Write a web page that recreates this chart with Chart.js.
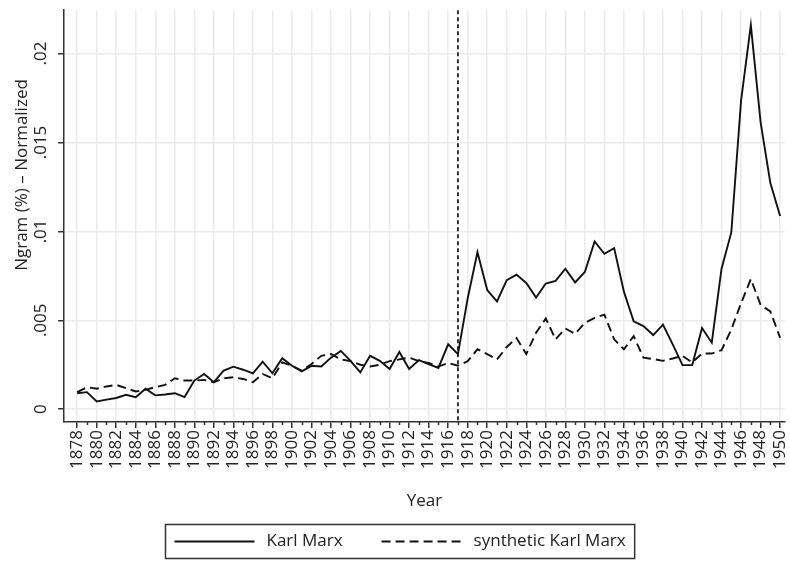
<!DOCTYPE html>
<html>
<head>
<meta charset="utf-8">
<title>Karl Marx ngram</title>
<script src="https://cdn.jsdelivr.net/npm/chart.js@4.4.1/dist/chart.umd.min.js"></script>
<style>
  html, body { margin: 0; padding: 0; background: #fff; }
  #wrap { width: 790px; height: 563px; }
</style>
</head>
<body>
<div id="wrap"><canvas id="ngram"></canvas></div>
<script>
// one value per year, 1878 .. 1950
const years = Array.from({ length: 73 }, (_, i) => 1878 + i);

const karlMarx = [
  0.0009, 0.00096, 0.00044, 0.00054, 0.00063, 0.00081, 0.00068, 0.00115, 0.00078, 0.00083,
  0.0009, 0.00068, 0.00161, 0.00198, 0.00152, 0.00217, 0.00239, 0.00222, 0.00202, 0.00267,
  0.00202, 0.00287, 0.00244, 0.00213, 0.00244, 0.0024, 0.0029, 0.00328, 0.00272, 0.00207,
  0.003, 0.00272, 0.00226, 0.00322, 0.00226, 0.00276, 0.00254, 0.00232, 0.00365, 0.0031,
  0.00624, 0.00883, 0.0067, 0.00606, 0.00726, 0.00757, 0.0071, 0.00628, 0.00707, 0.00722,
  0.0079, 0.00713, 0.00772, 0.00943, 0.00874, 0.00906, 0.00661, 0.00494, 0.00467, 0.00417,
  0.00476, 0.00365, 0.00248, 0.00248, 0.00457, 0.00374, 0.0079, 0.00994, 0.01735, 0.0216,
  0.01615, 0.01272, 0.01087
];

const syntheticMarx = [
  0.00096, 0.00124, 0.00115, 0.00128, 0.00137, 0.00118, 0.001, 0.00109, 0.00124, 0.00137,
  0.00174, 0.00161, 0.00161, 0.00165, 0.00152, 0.00174, 0.0018, 0.0017, 0.00152, 0.00198,
  0.00174, 0.00263, 0.00244, 0.00217, 0.00254, 0.003, 0.0031, 0.0028, 0.0027, 0.0025,
  0.0024, 0.0025, 0.0027, 0.0028, 0.0029, 0.0027, 0.0026, 0.0024, 0.0026, 0.00245,
  0.0027, 0.00337, 0.0031, 0.0028, 0.0035, 0.004, 0.0031, 0.0043, 0.0051, 0.00393,
  0.00454, 0.00424, 0.00485, 0.00513, 0.00532, 0.00393, 0.00337, 0.00411, 0.0029, 0.00282,
  0.00272, 0.00285, 0.003, 0.00263, 0.00313, 0.00313, 0.00332, 0.00448, 0.00596, 0.00732,
  0.00587, 0.0055, 0.00402
];

const seriesNames = ['Karl Marx', 'synthetic Karl Marx'];
const xTicks = years.filter(y => y % 2 === 0);
const yTicks = [0, 0.005, 0.01, 0.015, 0.02];
const treatmentYear = 1917;
const xTitle = 'Year';
const yTitle = 'Ngram (%) \u2013 Normalized';

const FONT = '"Open Sans", "Noto Sans", sans-serif';
const INK = '#222';
const GRID = '#ebebeb';

Chart.defaults.font.family = FONT;
Chart.defaults.font.size = 17;
Chart.defaults.color = INK;

const toPoints = vals => years.map((yr, i) => ({ x: yr, y: vals[i] }));

// dotted line at the treatment year, minor x ticks, y title and the framed legend
const extras = {
  id: 'extras',
  beforeDatasetsDraw(chart) {
    const { ctx, chartArea, scales } = chart;
    const px = scales.x.getPixelForValue(treatmentYear);
    ctx.save();
    ctx.strokeStyle = '#222';
    ctx.lineWidth = 1.8;
    ctx.setLineDash([4, 3]);
    ctx.beginPath();
    ctx.moveTo(px, chartArea.top);
    ctx.lineTo(px, chartArea.bottom);
    ctx.stroke();
    ctx.restore();
  },
  afterDraw(chart) {
    const { ctx, chartArea, scales } = chart;
    ctx.save();

    // minor ticks on odd years
    ctx.strokeStyle = '#333';
    ctx.lineWidth = 1.5;
    years.filter(y => y % 2 === 1).forEach(y => {
      const px = Math.round(scales.x.getPixelForValue(y)) + 0.5;
      ctx.beginPath();
      ctx.moveTo(px, chartArea.bottom);
      ctx.lineTo(px, chartArea.bottom + 3);
      ctx.stroke();
    });

    // y axis title
    ctx.fillStyle = INK;
    ctx.font = '17px ' + FONT;
    ctx.textAlign = 'center';
    ctx.textBaseline = 'middle';
    ctx.translate(22, 175);
    ctx.rotate(-Math.PI / 2);
    ctx.fillText(yTitle, 0, 0);
    ctx.setTransform(1, 0, 0, 1, 0, 0);

    // legend in a box
    const sample = 80, gapText = 12, gapItem = 39, pad = 9;
    const widths = seriesNames.map(n => ctx.measureText(n).width);
    const total = pad * 2 + sample * 2 + gapText * 2 + gapItem + widths[0] + widths[1];
    const left = Math.round(400 - total / 2) + 0.5;
    const top = 524.5, height = 34;
    const midY = top + height / 2;
    ctx.strokeStyle = '#333';
    ctx.lineWidth = 1.5;
    ctx.strokeRect(left, top, total, height);

    let cx = left + pad;
    chart.data.datasets.forEach((ds, i) => {
      ctx.strokeStyle = ds.borderColor;
      ctx.lineWidth = ds.borderWidth;
      ctx.setLineDash(ds.borderDash || []);
      ctx.beginPath();
      ctx.moveTo(cx, midY);
      ctx.lineTo(cx + sample, midY);
      ctx.stroke();
      ctx.setLineDash([]);
      ctx.textAlign = 'left';
      ctx.fillText(seriesNames[i], cx + sample + gapText, midY);
      cx += sample + gapText + widths[i] + gapItem;
    });
    ctx.restore();
  }
};

new Chart(document.getElementById('ngram'), {
  type: 'line',
  data: {
    datasets: [
      {
        label: seriesNames[0],
        data: toPoints(karlMarx),
        borderColor: '#111',
        borderWidth: 1.9,
        pointRadius: 0,
        tension: 0
      },
      {
        label: seriesNames[1],
        data: toPoints(syntheticMarx),
        borderColor: '#111',
        borderWidth: 1.9,
        borderDash: [9, 5],
        pointRadius: 0,
        tension: 0
      }
    ]
  },
  options: {
    responsive: true,
    maintainAspectRatio: false,
    animation: false,
    layout: { padding: { left: 0, right: 5, top: 5, bottom: 43 } },
    plugins: {
      legend: { display: false },
      tooltip: { enabled: false }
    },
    scales: {
      x: {
        type: 'linear',
        min: 1876.65,
        max: 1950.5,
        afterBuildTicks: s => { s.ticks = xTicks.map(v => ({ value: v })); },
        afterFit: s => {
          s.height = 98;
          s.paddingRight = 0;
        },
        ticks: {
          autoSkip: false,
          minRotation: 90,
          maxRotation: 90,
          padding: 2,
          callback: v => String(v)
        },
        grid: { color: GRID, lineWidth: 1.5, tickColor: '#333', tickLength: 6 },
        border: { color: '#333', width: 1.5 },
        title: { display: true, text: xTitle, padding: { top: 0, bottom: 9 } }
      },
      y: {
        min: -0.00072,
        max: 0.02244,
        afterBuildTicks: s => { s.ticks = yTicks.map(v => ({ value: v })); },
        afterFit: s => { s.width = 64; },
        ticks: {
          minRotation: 90,
          maxRotation: 90,
          crossAlign: 'center',
          padding: 0,
          callback: v => (v === 0 ? '0' : String(v).replace(/^0/, ''))
        },
        grid: { color: GRID, lineWidth: 1.5, tickColor: '#333', tickLength: 6 },
        border: { color: '#333', width: 1.5 }
      }
    }
  },
  plugins: [extras]
});
</script>
</body>
</html>
